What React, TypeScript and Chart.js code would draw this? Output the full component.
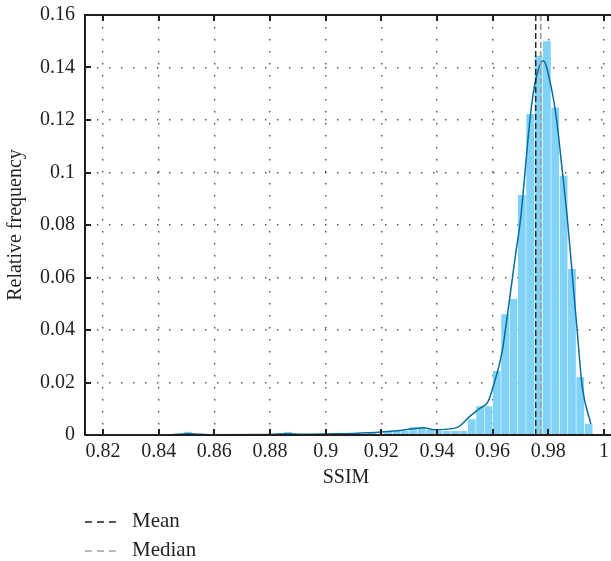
import React, { useEffect, useRef } from "react";
import { Chart, registerables } from "chart.js";

Chart.register(...registerables);

// ---- data ----
const binCenters = [
  0.8505, 0.8535, 0.8865, 0.9015, 0.9105, 0.9165, 0.9225, 0.9255, 0.9285, 0.9315,
  0.9345, 0.9375, 0.9405, 0.9435, 0.9465, 0.9495, 0.9525, 0.9555, 0.9585, 0.9615,
  0.9645, 0.9675, 0.9705, 0.9735, 0.9765, 0.9795, 0.9825, 0.9855, 0.9885, 0.9915,
  0.9945,
];
const binFreq = [
  0.0012, 0.0003, 0.0011, 0.0005, 0.0006, 0.0008, 0.0012, 0.0015, 0.0015, 0.003,
  0.003, 0.002, 0.0015, 0.0015, 0.0015, 0.0015, 0.006, 0.011, 0.011, 0.0244,
  0.046, 0.0518, 0.0914, 0.1223, 0.1445, 0.15, 0.1248, 0.0988, 0.0632, 0.022,
  0.0042,
];

const kdeX = [
  0.845, 0.85, 0.855, 0.86, 0.88, 0.886, 0.892, 0.9, 0.91, 0.92, 0.9267, 0.935,
  0.9393, 0.9471, 0.9519, 0.9555, 0.9583, 0.9609, 0.9633, 0.9659, 0.9683, 0.97,
  0.9734, 0.975, 0.9782, 0.981, 0.983, 0.985, 0.9869, 0.989, 0.9902, 0.9922, 0.9953,
];
const kdeY = [
  0.0001, 0.0005, 0.0003, 0.0001, 0.0002, 0.0005, 0.0003, 0.0004, 0.0006, 0.0011,
  0.0017, 0.0028, 0.002, 0.0028, 0.0072, 0.0102, 0.0126, 0.021, 0.0311, 0.0502,
  0.0692, 0.0819, 0.12, 0.1327, 0.1426, 0.1327, 0.12, 0.101, 0.0819, 0.0565,
  0.042, 0.0184, 0.0042,
];

const meanValue = 0.9755;
const medianValue = 0.9773;

const xTicks = [0.82, 0.84, 0.86, 0.88, 0.9, 0.92, 0.94, 0.96, 0.98, 1];
const xTickLabels = ["0.82", "0.84", "0.86", "0.88", "0.9", "0.92", "0.94", "0.96", "0.98", "1"];
const yTicks = [0, 0.02, 0.04, 0.06, 0.08, 0.1, 0.12, 0.14, 0.16];
const yTickLabels = ["0", "0.02", "0.04", "0.06", "0.08", "0.1", "0.12", "0.14", "0.16"];

const xTitle = "SSIM";
const yTitle = "Relative frequency";
const legendLabels = ["Mean", "Median"];

// ---- styles ----
const FONT = "'Liberation Serif', 'DejaVu Serif', serif";
const INK = "#231f20";
const BAR = "#80d3f6";
const KDE = "#0a6c9c";
const MEDIAN_C = "#a0a0a0";

const framePlugin = {
  id: "frameAndText",
  afterDatasetsDraw(chart: any) {
    const { ctx, chartArea: a, scales } = chart;
    const xs = scales.x;
    const ys = scales.y;
    ctx.save();
    ctx.setLineDash([]);
    ctx.strokeStyle = INK;
    ctx.lineWidth = 2;
    ctx.beginPath();
    ctx.moveTo(a.left - 1, a.top);
    ctx.lineTo(a.right + 2, a.top);
    ctx.moveTo(a.left, a.top - 1);
    ctx.lineTo(a.left, a.bottom + 1);
    ctx.moveTo(a.left - 1, a.bottom);
    ctx.lineTo(a.right + 2, a.bottom);
    ctx.stroke();
    ctx.beginPath();
    xTicks.forEach((v) => {
      const px = Math.round(xs.getPixelForValue(v));
      ctx.moveTo(px, a.bottom);
      ctx.lineTo(px, a.bottom - 6);
      ctx.moveTo(px, a.top);
      ctx.lineTo(px, a.top + 6);
    });
    yTicks.forEach((v) => {
      const py = Math.round(ys.getPixelForValue(v));
      ctx.moveTo(a.left, py);
      ctx.lineTo(a.left + 6, py);
    });
    ctx.stroke();

    // axis titles
    ctx.fillStyle = INK;
    ctx.font = `20px ${FONT}`;
    ctx.textAlign = "center";
    ctx.textBaseline = "middle";
    ctx.fillText(xTitle, (a.left + a.right) / 2 - 2, 478);
    ctx.save();
    ctx.translate(16, (a.top + a.bottom) / 2);
    ctx.rotate(-Math.PI / 2);
    ctx.fillText(yTitle, 0, 0);
    ctx.restore();

    // legend
    const rows = [
      { label: legendLabels[0], color: INK, y: 522 },
      { label: legendLabels[1], color: MEDIAN_C, y: 551 },
    ];
    rows.forEach((r) => {
      ctx.strokeStyle = r.color;
      ctx.lineWidth = 1.3;
      ctx.setLineDash([7, 5]);
      ctx.beginPath();
      ctx.moveTo(85, r.y);
      ctx.lineTo(120, r.y);
      ctx.stroke();
      ctx.setLineDash([]);
      ctx.fillStyle = INK;
      ctx.textAlign = "left";
      ctx.font = `21px ${FONT}`;
      ctx.fillText(r.label, 132, r.y - 1);
    });
    ctx.restore();
  },
};

export default function App() {
  const ref = useRef<HTMLCanvasElement | null>(null);

  useEffect(() => {
    if (!ref.current) return;
    const chart = new Chart(ref.current, {
      type: "bar",
      data: {
        datasets: [
          {
            type: "line",
            label: legendLabels[0],
            data: [
              { x: meanValue, y: 0 },
              { x: meanValue, y: 0.16 },
            ],
            borderColor: INK,
            borderWidth: 1.4,
            borderDash: [6, 3],
            pointRadius: 0,
            order: 0,
          } as any,
          {
            type: "line",
            label: legendLabels[1],
            data: [
              { x: medianValue, y: 0 },
              { x: medianValue, y: 0.16 },
            ],
            borderColor: MEDIAN_C,
            borderWidth: 1.8,
            borderDash: [6, 3],
            pointRadius: 0,
            order: 1,
          } as any,
          {
            type: "line",
            label: "KDE",
            data: kdeX.map((x, i) => ({ x, y: kdeY[i] })),
            borderColor: KDE,
            borderWidth: 1.5,
            pointRadius: 0,
            cubicInterpolationMode: "monotone",
            order: 2,
          } as any,
          {
            type: "bar",
            label: "Histogram",
            data: binCenters.map((x, i) => ({ x, y: binFreq[i] })),
            backgroundColor: BAR,
            borderColor: "rgba(255,255,255,0.35)",
            borderWidth: { left: 0.6, right: 0.6, top: 0, bottom: 0 },
            borderSkipped: false,
            barPercentage: 1,
            categoryPercentage: 1,
            order: 3,
          } as any,
        ],
      },
      options: {
        animation: false,
        responsive: false,
        devicePixelRatio: 1,
        layout: { padding: { top: 15, left: 0, right: 0, bottom: 0 } },
        plugins: { legend: { display: false }, tooltip: { enabled: false } },
        scales: {
          x: {
            type: "linear",
            offset: false,
            min: 0.81353,
            max: 1.00254,
            afterBuildTicks: (s: any) => {
              s.ticks = xTicks.map((v) => ({ value: v }));
            },
            afterFit: (s: any) => {
              s.height = 126;
              s.paddingLeft = 0;
              s.paddingRight = 0;
            },
            ticks: {
              autoSkip: false,
              maxRotation: 0,
              padding: 5,
              color: INK,
              font: { family: FONT, size: 20 },
              callback: (_v: any, i: number) => xTickLabels[i],
            },
            grid: {
              offset: false,
              color: "rgba(50,50,50,0.85)",
              lineWidth: 1.4,
              drawTicks: false,
            },
            border: { display: false, dash: [1.4, 10.6] },
          },
          y: {
            type: "linear",
            min: 0,
            max: 0.16,
            afterBuildTicks: (s: any) => {
              s.ticks = yTicks.map((v) => ({ value: v }));
            },
            afterFit: (s: any) => {
              s.width = 85;
              s.paddingTop = 0;
              s.paddingBottom = 0;
            },
            ticks: {
              padding: 10,
              color: INK,
              font: { family: FONT, size: 20 },
              callback: (_v: any, i: number) => yTickLabels[i],
            },
            grid: {
              color: "rgba(50,50,50,0.85)",
              lineWidth: 1.4,
              drawTicks: false,
            },
            border: { display: false, dash: [1.4, 10.6] },
          },
        },
      },
      plugins: [framePlugin],
    });
    return () => chart.destroy();
  }, []);

  return (
    <div style={{ position: "absolute", left: 0, top: 0, width: 611, height: 561, background: "#fff" }}>
      <canvas ref={ref} width={611} height={561} style={{ display: "block" }} />
    </div>
  );
}
